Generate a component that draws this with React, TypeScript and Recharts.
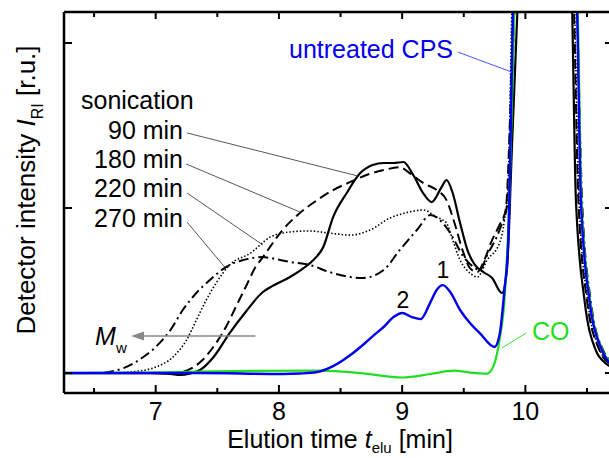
import { LineChart, Line, XAxis, YAxis, ReferenceLine, ReferenceDot } from 'recharts';

// elution time [min] / detector intensity [r.u.]
const t90 = [6.256, 6.95, 7.12, 7.2, 7.28, 7.36, 7.47, 7.6, 7.73, 7.87, 7.93, 8.09, 8.2, 8.28, 8.36, 8.44, 8.55, 8.66, 8.76, 8.85, 8.93, 9.01, 9.09, 9.17, 9.24, 9.32, 9.36, 9.41, 9.47, 9.53, 9.59, 9.66, 9.73, 9.81, 9.85, 9.89, 9.935, 10.15, 10.38, 10.41, 10.48, 10.57, 10.65, 10.711];
const i90 = [0, 0, -0.006, -0.012, -0.003, 0.018, 0.097, 0.242, 0.37, 0.491, 0.52, 0.582, 0.636, 0.685, 0.764, 0.945, 1.091, 1.212, 1.261, 1.273, 1.273, 1.279, 1.2, 1.091, 1.036, 1.127, 1.17, 1.091, 0.909, 0.745, 0.655, 0.612, 0.576, 0.485, 0.624, 1.35, 2.19, 6, 2.19, 1.05, 0.44, 0.14, 0.06, 0.03];

const t180 = [6.256, 7.03, 7.16, 7.22, 7.38, 7.49, 7.57, 7.65, 7.73, 7.81, 7.87, 8.03, 8.17, 8.31, 8.44, 8.58, 8.71, 8.85, 8.98, 9.06, 9.17, 9.28, 9.36, 9.43, 9.49, 9.55, 9.61, 9.66, 9.73, 9.79, 9.84, 9.875, 9.9, 10.15, 10.395, 10.43, 10.5, 10.6, 10.68, 10.711];
const i180 = [0, 0, -0.006, 0.006, 0.079, 0.182, 0.279, 0.4, 0.521, 0.642, 0.703, 0.867, 0.97, 1.048, 1.109, 1.158, 1.2, 1.23, 1.248, 1.212, 1.152, 1.109, 1.048, 0.897, 0.745, 0.636, 0.612, 0.673, 0.806, 0.897, 0.988, 1.53, 2.19, 6, 2.19, 1.05, 0.44, 0.14, 0.06, 0.05];

const t220 = [6.256, 6.63, 6.79, 7.0, 7.14, 7.25, 7.33, 7.41, 7.49, 7.6, 7.77, 7.93, 8.09, 8.25, 8.41, 8.58, 8.74, 8.9, 9.06, 9.17, 9.28, 9.36, 9.41, 9.47, 9.55, 9.61, 9.69, 9.79, 9.83, 9.86, 9.89, 10.15, 10.4, 10.435, 10.505, 10.605, 10.69, 10.711];
const i220 = [0, 0, 0.006, 0.036, 0.097, 0.2, 0.321, 0.442, 0.545, 0.655, 0.727, 0.824, 0.855, 0.861, 0.848, 0.836, 0.867, 0.939, 0.976, 0.988, 0.945, 0.909, 0.806, 0.685, 0.606, 0.582, 0.685, 0.788, 0.927, 1.152, 2.19, 6, 2.19, 1.05, 0.44, 0.14, 0.06, 0.055];

const t270 = [6.256, 6.52, 6.74, 6.9, 7.0, 7.12, 7.22, 7.33, 7.44, 7.57, 7.71, 7.87, 7.93, 8.09, 8.25, 8.41, 8.58, 8.68, 8.85, 8.98, 9.12, 9.23, 9.33, 9.39, 9.5, 9.58, 9.63, 9.69, 9.79, 9.86, 9.91, 10.15, 10.42, 10.46, 10.53, 10.63, 10.711];
const i270 = [0, 0, 0.03, 0.097, 0.158, 0.261, 0.382, 0.485, 0.564, 0.642, 0.685, 0.703, 0.697, 0.673, 0.655, 0.612, 0.582, 0.576, 0.624, 0.745, 0.867, 0.958, 0.909, 0.848, 0.703, 0.642, 0.624, 0.715, 0.867, 1.048, 2.19, 6, 2.19, 1.05, 0.44, 0.14, 0.07];

const tCps = [6.256, 7.36, 8.03, 8.17, 8.31, 8.44, 8.58, 8.7, 8.79, 8.85, 8.93, 9.0, 9.08, 9.15, 9.23, 9.28, 9.33, 9.39, 9.47, 9.55, 9.63, 9.75, 9.79, 9.83, 9.86, 9.9, 10.15, 10.42, 10.45, 10.52, 10.62, 10.711];
const iCps = [0, 0, -0.006, -0.003, 0.006, 0.042, 0.109, 0.182, 0.242, 0.279, 0.339, 0.364, 0.339, 0.327, 0.43, 0.503, 0.533, 0.491, 0.382, 0.303, 0.242, 0.158, 0.23, 0.503, 0.788, 2.19, 6, 2.19, 1.05, 0.44, 0.14, 0.05];

const tCo = [6.256, 6.95, 7.6, 8.31, 8.66, 9.0, 9.23, 9.42, 9.55, 9.69, 9.75, 9.79, 9.83, 9.87, 9.91, 10.15, 10.425, 10.455, 10.525, 10.625, 10.711];
const iCo = [0, 0.003, 0.012, 0.014, 0, -0.027, -0.006, 0.014, 0.003, -0.003, 0.06, 0.2, 0.44, 1.05, 2.19, 6, 2.19, 1.05, 0.44, 0.14, 0.06];

const xTicks = [6.5, 7, 7.5, 8, 8.5, 9, 9.5, 10, 10.5];
const yTicks = [0, 1, 2];
const sonLabels = ['90 min', '180 min', '220 min', '270 min'];
const sonLabelY = [1.418, 1.242, 1.067, 0.885];
// leader lines: [label end t, label end I, curve t, curve I]
const sonLeaders = [
  [7.254, 1.455, 8.642, 1.194],
  [7.247, 1.267, 8.17, 0.976],
  [7.254, 1.091, 7.87, 0.776],
  [7.254, 0.915, 7.56, 0.642],
];

const pts = (t: number[], v: number[]) => t.map((x, k) => ({ t: x, v: v[k] }));

const FONT = '"Liberation Sans", Arial, sans-serif';
const X_DOMAIN = [6.256, 10.711];
const Y_DOMAIN = [-0.121, 2.188];

const BottomTick = (p: any) => {
  const major = Number.isInteger(p.payload.value);
  return (
    <g>
      <line x1={p.x} x2={p.x} y1={p.y} y2={p.y - (major ? 8 : 5)} stroke="#000" strokeWidth={2} />
      {major && (
        <text x={p.x} y={p.y + 27} textAnchor="middle" fontSize={25} fontFamily={FONT} fill="#000">
          {p.payload.value}
        </text>
      )}
    </g>
  );
};

const TopTick = (p: any) => {
  const major = Number.isInteger(p.payload.value);
  return <line x1={p.x} x2={p.x} y1={p.y} y2={p.y + (major ? 7 : 5)} stroke="#000" strokeWidth={2} />;
};

const LeftTick = (p: any) => (
  <line x1={p.x} x2={p.x + 8} y1={p.y} y2={p.y} stroke="#000" strokeWidth={2} />
);
const RightTick = (p: any) => (
  <line x1={p.x} x2={p.x - 8} y1={p.y} y2={p.y} stroke="#000" strokeWidth={2} />
);

const txt = (s: string, anchor: string, size: number, color: string) => (p: any) => (
  <text x={p.cx} y={p.cy} textAnchor={anchor} fontSize={size} fontFamily={FONT} fill={color}>
    {s}
  </text>
);

const MwLabel = (p: any) => (
  <text x={p.cx} y={p.cy} fontSize={25} fontFamily={FONT} fill="#000">
    <tspan fontStyle="italic">M</tspan>
    <tspan fontSize={15} dy={8}>w</tspan>
  </text>
);

const ArrowHead = (p: any) => (
  <polygon points={`${p.cx},${p.cy} ${p.cx + 13},${p.cy - 4.5} ${p.cx + 13},${p.cy + 4.5}`} fill="#888" />
);

export default function App() {
  const ax = { xAxisId: 'b', yAxisId: 'l' };
  return (
    <div style={{ position: 'fixed', left: 0, top: 0, width: 609, height: 458, overflow: 'hidden', background: '#fff' }}>
      <LineChart width={640} height={458} margin={{ top: 11, right: 26, bottom: 64, left: 63 }}>
        <XAxis
          xAxisId="b"
          orientation="bottom"
          type="number"
          dataKey="t"
          domain={X_DOMAIN}
          allowDataOverflow
          ticks={xTicks}
          interval={0}
          height={1}
          tickSize={0}
          tickMargin={0}
          tickLine={false}
          tick={BottomTick}
          axisLine={{ stroke: '#000', strokeWidth: 2.5 }}
          label={{
            content: () => (
              <text x={340} y={448} textAnchor="middle" fontSize={25} fontFamily={FONT} fill="#000">
                Elution time <tspan fontStyle="italic">t</tspan>
                <tspan fontSize={15} dy={5}>elu</tspan>
                <tspan dy={-5}> [min]</tspan>
              </text>
            ),
          }}
        />
        <XAxis
          xAxisId="t"
          orientation="top"
          type="number"
          dataKey="t"
          domain={X_DOMAIN}
          allowDataOverflow
          ticks={xTicks}
          interval={0}
          height={1}
          tickSize={0}
          tickMargin={0}
          tickLine={false}
          tick={TopTick}
          axisLine={{ stroke: '#000', strokeWidth: 2.5 }}
        />
        <YAxis
          yAxisId="l"
          orientation="left"
          type="number"
          domain={Y_DOMAIN}
          allowDataOverflow
          ticks={yTicks}
          interval={0}
          width={1}
          tickSize={0}
          tickMargin={0}
          tickLine={false}
          tick={LeftTick}
          axisLine={{ stroke: '#000', strokeWidth: 2.5 }}
          label={{
            content: () => (
              <text transform="translate(35,190) rotate(-90)" textAnchor="middle" fontSize={26} fontFamily={FONT} fill="#000">
                Detector intensity <tspan fontStyle="italic">I</tspan>
                <tspan fontSize={16} dy={8}>RI</tspan>
                <tspan dy={-8}> [r.u.]</tspan>
              </text>
            ),
          }}
        />
        <YAxis
          yAxisId="r"
          orientation="right"
          type="number"
          domain={Y_DOMAIN}
          allowDataOverflow
          ticks={yTicks}
          interval={0}
          width={1}
          tickSize={0}
          tickMargin={0}
          tickLine={false}
          tick={RightTick}
          axisLine={{ stroke: '#000', strokeWidth: 2.5 }}
        />

        <Line xAxisId="b" yAxisId="l" data={pts(t270, i270)} dataKey="v" type="monotone" stroke="#000" strokeWidth={2} strokeDasharray="10 4 2 4" dot={false} isAnimationActive={false} />
        <Line xAxisId="b" yAxisId="l" data={pts(t220, i220)} dataKey="v" type="monotone" stroke="#000" strokeWidth={1.6} strokeDasharray="1.5 2" dot={false} isAnimationActive={false} />
        <Line xAxisId="b" yAxisId="l" data={pts(t180, i180)} dataKey="v" type="monotone" stroke="#000" strokeWidth={2} strokeDasharray="10 5" dot={false} isAnimationActive={false} />
        <Line xAxisId="b" yAxisId="l" data={pts(t90, i90)} dataKey="v" type="monotone" stroke="#000" strokeWidth={2.2} dot={false} isAnimationActive={false} />
        <Line xAxisId="b" yAxisId="l" data={pts(tCo, iCo)} dataKey="v" type="monotone" stroke="#22dd22" strokeWidth={2.2} dot={false} isAnimationActive={false} />
        <Line xAxisId="b" yAxisId="l" data={pts(tCps, iCps)} dataKey="v" type="monotone" stroke="#0000ee" strokeWidth={2.4} dot={false} isAnimationActive={false} />

        {sonLeaders.map((s, k) => (
          <ReferenceLine key={'ld' + k} {...ax} segment={[{ x: s[0], y: s[1] }, { x: s[2], y: s[3] }]} stroke="#444" strokeWidth={0.9} ifOverflow="visible" />
        ))}
        <ReferenceLine {...ax} segment={[{ x: 9.453, y: 1.945 }, { x: 9.89, y: 1.824 }]} stroke="#3344ff" strokeWidth={0.9} ifOverflow="visible" />
        <ReferenceLine {...ax} segment={[{ x: 10.005, y: 0.242 }, { x: 9.81, y: 0.152 }]} stroke="#22dd22" strokeWidth={0.9} ifOverflow="visible" />
        <ReferenceLine {...ax} segment={[{ x: 7.81, y: 0.224 }, { x: 6.86, y: 0.224 }]} stroke="#888" strokeWidth={1.6} ifOverflow="visible" />
        <ReferenceDot {...ax} x={6.8} y={0.224} r={0} shape={ArrowHead} ifOverflow="visible" />

        <ReferenceDot {...ax} x={6.394} y={1.6} r={0} shape={txt('sonication', 'start', 25, '#000')} ifOverflow="visible" />
        {sonLabels.map((s, k) => (
          <ReferenceDot key={'sl' + k} {...ax} x={7.222} y={sonLabelY[k]} r={0} shape={txt(s, 'end', 25, '#000')} ifOverflow="visible" />
        ))}
        <ReferenceDot {...ax} x={9.413} y={1.909} r={0} shape={txt('untreated CPS', 'end', 25, '#0000ee')} ifOverflow="visible" />
        <ReferenceDot {...ax} x={10.054} y={0.2} r={0} shape={txt('CO', 'start', 25, '#22dd22')} ifOverflow="visible" />
        <ReferenceDot {...ax} x={9.006} y={0.394} r={0} shape={txt('2', 'middle', 23, '#000')} ifOverflow="visible" />
        <ReferenceDot {...ax} x={9.331} y={0.576} r={0} shape={txt('1', 'middle', 23, '#000')} ifOverflow="visible" />
        <ReferenceDot {...ax} x={6.508} y={0.17} r={0} shape={MwLabel} ifOverflow="visible" />
      </LineChart>
    </div>
  );
}
